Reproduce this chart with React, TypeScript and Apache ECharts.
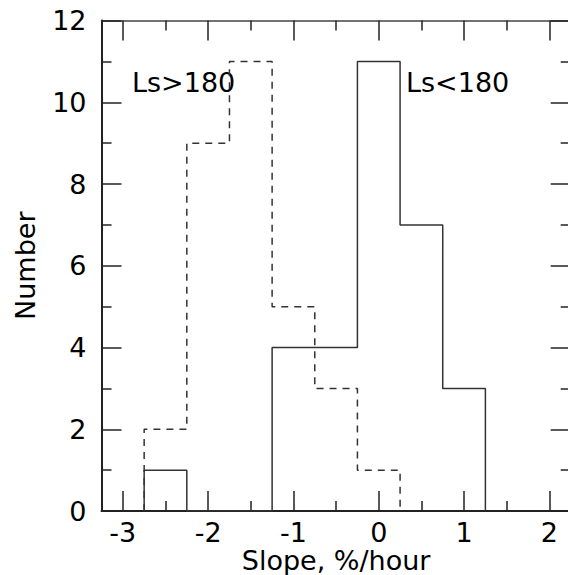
import React, { useEffect, useRef } from "react";
import * as echarts from "echarts";

// Histogram bin edges start (bin width 0.5)
const binStart = -2.75;
const binWidth = 0.5;
// Ls<180 counts (solid), bins from -2.75
const countsLsLow = [1, 0, 0, 4, 4, 11, 7, 3];
// Ls>180 counts (dashed), bins from -2.75
const countsLsHigh = [2, 9, 11, 5, 3, 1];

const xMajorTicks = [-3, -2, -1, 0, 1, 2];
const xMinorTicks = [-2.5, -1.5, -0.5, 0.5, 1.5];

const FONT = "DejaVu Sans";

function stepOutline(start: number, width: number, counts: number[]): number[][] {
  const pts: number[][] = [];
  pts.push([start, 0]);
  counts.forEach((c, i) => {
    const x0 = start + i * width;
    const x1 = x0 + width;
    pts.push([x0, c]);
    pts.push([x1, c]);
  });
  pts.push([start + counts.length * width, 0]);
  return pts;
}

export default function App() {
  const ref = useRef<HTMLDivElement>(null);
  useEffect(() => {
    if (!ref.current) return;
    const chart = echarts.init(ref.current, null, { renderer: "svg" });
    const axisColor = "#222";
    const grid = { left: 101.5, right: 9.3, top: 20.5, bottom: 64, containLabel: false, outerBoundsMode: "none" };
    const baseX = {
      type: "value" as const,
      min: -3.25,
      max: 2.25,
      splitLine: { show: false },
    };
    chart.setOption({
      animation: false,
      backgroundColor: "#fff",
      grid,
      xAxis: [
        {
          ...baseX,
          position: "bottom",
          name: "Slope, %/hour",
          nameLocation: "middle",
          nameGap: 36,
          nameMoveOverlap: false,
          nameTextStyle: { fontFamily: FONT, fontSize: 27, color: "#000" },
          axisLine: { show: true, onZero: false, lineStyle: { color: axisColor, width: 2 } },
          axisTick: { show: true, inside: true, length: 20, customValues: xMajorTicks, lineStyle: { color: axisColor, width: 1.5 } },
          axisLabel: { show: true, customValues: xMajorTicks, margin: 8, fontFamily: FONT, fontSize: 27, color: "#000" },
        },
        {
          ...baseX,
          position: "bottom",
          axisLine: { show: false, onZero: false },
          axisTick: { show: true, inside: true, length: 10, customValues: xMinorTicks, lineStyle: { color: axisColor, width: 1.5 } },
          axisLabel: { show: false },
        },
        {
          ...baseX,
          position: "top",
          axisLine: { show: true, onZero: false, lineStyle: { color: "#444", width: 1.5 } },
          axisTick: { show: true, inside: true, length: 20, customValues: xMajorTicks, lineStyle: { color: axisColor, width: 1.5 } },
          axisLabel: { show: false },
        },
        {
          ...baseX,
          position: "top",
          axisLine: { show: false, onZero: false },
          axisTick: { show: true, inside: true, length: 10, customValues: xMinorTicks, lineStyle: { color: axisColor, width: 1.5 } },
          axisLabel: { show: false },
        },
      ],
      yAxis: [
        {
          type: "value",
          min: 0,
          max: 12,
          interval: 2,
          position: "left",
          name: "Number",
          nameLocation: "middle",
          nameGap: 63,
          nameMoveOverlap: false,
          nameTextStyle: { fontFamily: FONT, fontSize: 27, color: "#000" },
          splitLine: { show: false },
          axisLine: { show: true, onZero: false, lineStyle: { color: axisColor, width: 2 } },
          axisTick: { show: true, inside: true, length: 20, lineStyle: { color: axisColor, width: 1.5 } },
          minorTick: { show: true, splitNumber: 2, length: 10, lineStyle: { color: axisColor, width: 1.5 } },
          axisLabel: { margin: 15, fontFamily: FONT, fontSize: 27, color: "#000" },
        },
        {
          type: "value",
          min: 0,
          max: 12,
          interval: 2,
          position: "right",
          splitLine: { show: false },
          axisLine: { show: true, onZero: false, lineStyle: { color: "#444", width: 1.5 } },
          axisTick: { show: true, inside: true, length: 20, lineStyle: { color: axisColor, width: 1.5 } },
          minorTick: { show: true, splitNumber: 2, length: 10, lineStyle: { color: axisColor, width: 1.5 } },
          axisLabel: { show: false },
        },
      ],
      series: [
        {
          name: "Ls<180",
          type: "line",
          xAxisIndex: 0,
          yAxisIndex: 0,
          data: stepOutline(binStart, binWidth, countsLsLow),
          symbol: "none",
          lineStyle: { color: "#333", width: 1.5, type: "solid" },
          z: 3,
        },
        {
          name: "Ls>180",
          type: "line",
          xAxisIndex: 0,
          yAxisIndex: 0,
          data: stepOutline(binStart, binWidth, countsLsHigh),
          symbol: "none",
          lineStyle: { color: "#333", width: 1.5, type: [7, 6] },
          z: 2,
        },
      ],
      graphic: [
        {
          type: "text",
          x: 132,
          y: 82,
          style: { text: "Ls>180", fontFamily: FONT, fontSize: 27, fill: "#000", verticalAlign: "middle", align: "left" },
        },
        {
          type: "text",
          x: 406,
          y: 82,
          style: { text: "Ls<180", fontFamily: FONT, fontSize: 27, fill: "#000", verticalAlign: "middle", align: "left" },
        },
      ],
    });
    return () => chart.dispose();
  }, []);
  return (
    <div style={{ position: "fixed", left: 0, top: 0, width: 568, height: 575, overflow: "hidden", background: "#fff" }}>
      <div ref={ref} style={{ width: 580, height: 575 }} />
    </div>
  );
}
